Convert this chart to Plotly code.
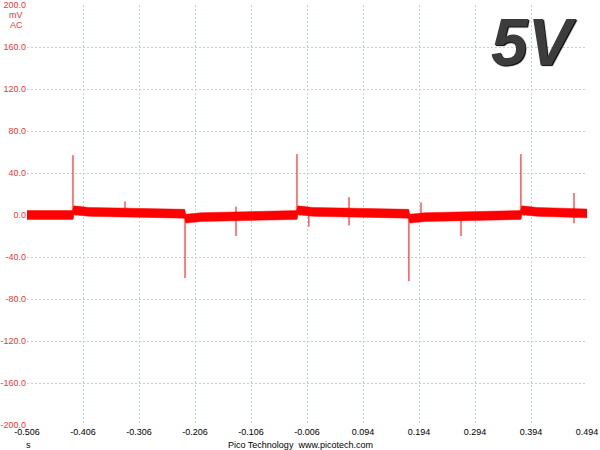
import plotly.graph_objects as go

# ---- data ----
# centre level of the noisy trace (mV) at break points (s)
level_t = [-0.506, -0.4245, -0.4225, -0.395, -0.2245, -0.2225, -0.195, -0.0245,
           -0.0225, 0.005, 0.1755, 0.1775, 0.205, 0.3755, 0.3775, 0.405, 0.494]
level_mv = [0.0, 0.0, 4.5, 3.0, 1.2, -3.5, -2.0, 0.0,
            4.5, 3.0, 1.2, -3.5, -2.0, 0.0, 4.5, 3.0, 1.5]
noise_half_mv = 4.2

# spikes: time (s), max (mV), min (mV)
spike_t = [-0.4239, -0.331, -0.2238, -0.1328, -0.0239, -0.0026, 0.069, 0.176, 0.1976, 0.269, 0.376, 0.4708]
spike_hi = [57.0, 13.0, 0.0, 8.0, 58.0, 0.0, 17.0, 0.0, 12.0, 0.0, 58.0, 21.0]
spike_lo = [-4.0, 0.0, -60.0, -20.0, -4.0, -11.0, -10.0, -63.0, 0.0, -20.0, -4.0, -8.0]

x_ticks = [-0.506, -0.406, -0.306, -0.206, -0.106, -0.006, 0.094, 0.194, 0.294, 0.394, 0.494]
x_labels = ["-0.506", "-0.406", "-0.306", "-0.206", "-0.106", "-0.006", "0.094", "0.194", "0.294", "0.394", "0.494"]
y_ticks = [200, 160, 120, 80, 40, 0, -40, -80, -120, -160, -200]
y_labels = ["200.0", "160.0", "120.0", "80.0", "40.0", "0.0", "-40.0", "-80.0", "-120.0", "-160.0", "-200.0"]

RED = "#ff0000"
LABEL_RED = "#e83838"
GRID = "#b4d4e8"
GRID_DASH = "2px,2px"
FONT = "Liberation Sans, Arial, sans-serif"

fig = go.Figure()

# noise band
band_x = level_t + level_t[::-1]
band_y = [v + noise_half_mv for v in level_mv] + [v - noise_half_mv for v in level_mv[::-1]]
fig.add_trace(go.Scatter(x=band_x, y=band_y, fill="toself", fillcolor=RED,
                         line=dict(color=RED, width=0.5), mode="lines",
                         hoverinfo="skip", showlegend=False))

# spikes
sx, sy = [], []
for t, hi, lo in zip(spike_t, spike_hi, spike_lo):
    sx += [t, t, None]
    sy += [lo, hi, None]
fig.add_trace(go.Scatter(x=sx, y=sy, mode="lines", line=dict(color=RED, width=1),
                         hoverinfo="skip", showlegend=False))

fig.update_layout(
    width=600, height=450,
    margin=dict(l=27, r=13, t=5, b=25, autoexpand=False),
    paper_bgcolor="white", plot_bgcolor="white",
    font=dict(family=FONT, size=9, color="#000"),
    xaxis=dict(range=[-0.506, 0.494], tickvals=x_ticks, ticktext=x_labels,
               showgrid=True, gridcolor=GRID, griddash=GRID_DASH, gridwidth=1,
               zeroline=False, showline=False, ticks="", automargin=False,
               tickfont=dict(family=FONT, size=9, color="#000")),
    yaxis=dict(range=[-200, 200], tickvals=y_ticks, ticktext=y_labels,
               showgrid=True, gridcolor=GRID, griddash=GRID_DASH, gridwidth=1,
               zeroline=False, showline=False, ticks="", automargin=False,
               tickfont=dict(family=FONT, size=9, color=LABEL_RED)),
)

ann = [
    dict(text="mV", x=0, y=1, xref="paper", yref="paper", xanchor="right", yanchor="middle",
         xshift=-2, yshift=-10, showarrow=False, font=dict(family=FONT, size=9, color=LABEL_RED)),
    dict(text="AC", x=0, y=1, xref="paper", yref="paper", xanchor="right", yanchor="middle",
         xshift=-2, yshift=-20, showarrow=False, font=dict(family=FONT, size=9, color=LABEL_RED)),
    dict(text="s", x=0, y=0, xref="paper", yref="paper", xanchor="center", yanchor="middle",
         xshift=1, yshift=-20, showarrow=False, font=dict(family=FONT, size=9, color="#000")),
    dict(text="Pico Technology  www.picotech.com", x=0.4885, y=0, xref="paper", yref="paper",
         xanchor="center", yanchor="middle", yshift=-20, showarrow=False,
         font=dict(family=FONT, size=9, color="#000")),
    dict(text="5V", x=0.905, y=1, xref="paper", yref="paper", xanchor="center", yanchor="middle",
         yshift=-37, showarrow=False,
         font=dict(family=FONT, size=66, color="#3c3c3c", weight="bold", style="italic",
                   shadow="1px 1px 1px #000000")),
]
fig.update_layout(annotations=ann)

fig.write_html("out.html", config={"displayModeBar": False},
               post_script="document.body.style.margin='0';document.body.style.overflow='hidden';")
